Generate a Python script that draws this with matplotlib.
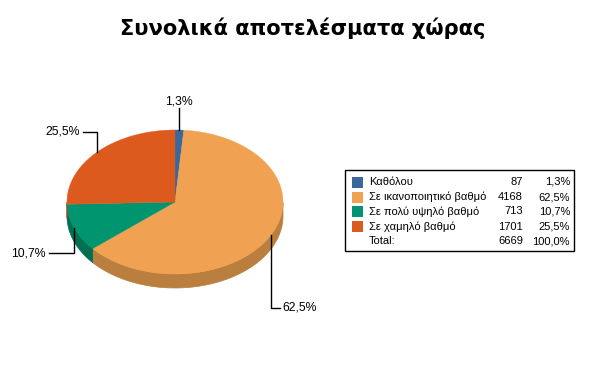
import numpy as np
import matplotlib
matplotlib.use("Agg")
import matplotlib.pyplot as plt
from matplotlib.patches import Polygon, Rectangle

# ---- data ----
title = "Συνολικά αποτελέσματα χώρας"
categories = ["Καθόλου", "Σε ικανοποιητικό βαθμό", "Σε πολύ υψηλό βαθμό", "Σε χαμηλό βαθμό"]
values = [87, 4168, 713, 1701]
total_label = "Total:"

# ---- style ----
top_colors = ["#3a679c", "#f0a252", "#00956f", "#dd5a1f"]
side_colors = ["#2a4c73", "#ba7f3e", "#007053", "#a8441a"]

W, H = 596, 379
fig = plt.figure(figsize=(W / 100, H / 100), dpi=100)
ax = fig.add_axes([0, 0, 1, 1])
ax.set_xlim(0, W)
ax.set_ylim(H, 0)
ax.axis("off")

cx, cy, rx, ry, depth = 175, 202, 108, 72, 14

def pt(t):
    r = np.radians(t)
    return cx + rx * np.cos(r), cy - ry * np.sin(r)

vals = np.array(values, dtype=float)
total = vals.sum()
fracs = vals / total
cum = np.concatenate([[0], np.cumsum(fracs)])
starts = 90 - cum[1:] * 360
ends = 90 - cum[:-1] * 360

# side walls
for i in range(len(vals)):
    ts = np.linspace(starts[i], ends[i], 400)
    vis = np.sin(np.radians(ts)) < 0
    if not vis.any():
        continue
    idx = np.where(vis)[0]
    runs = np.split(idx, np.where(np.diff(idx) != 1)[0] + 1)
    for run in runs:
        tt = ts[run]
        xs, ys = pt(tt)
        poly = np.column_stack([np.concatenate([xs, xs[::-1]]),
                                np.concatenate([ys, ys[::-1] + depth])])
        ax.add_patch(Polygon(poly, closed=True, facecolor=side_colors[i],
                             edgecolor=side_colors[i], lw=0.5))

# top faces
for i in range(len(vals)):
    ts = np.linspace(starts[i], ends[i], 300)
    xs, ys = pt(ts)
    poly = np.column_stack([np.concatenate([[cx], xs]), np.concatenate([[cy], ys])])
    ax.add_patch(Polygon(poly, closed=True, facecolor=top_colors[i],
                         edgecolor=top_colors[i], lw=0.3))

def pct(v):
    return f"{v:.1f}".replace(".", ",") + "%"

# label leader lines: (label y, horizontal end x, text alignment)
label_layout = [
    (108, None, "center"),
    (308, 280, "left"),
    (253, 49, "right"),
    (132, 83, "right"),
]
lab_font = dict(family=["Liberation Sans", "DejaVu Sans"], fontsize=8.8, color="#000000")
for i in range(len(vals)):
    mid = (starts[i] + ends[i]) / 2
    x0, y0 = pt(mid)
    ly, lx, ha = label_layout[i]
    if lx is None:
        ax.plot([x0, x0], [y0, ly], color="black", lw=1)
        ax.text(x0, ly - 1, pct(fracs[i] * 100), ha="center", va="bottom", **lab_font)
    else:
        ax.plot([x0, x0, lx], [y0, ly, ly], color="black", lw=1)
        if ha == "left":
            ax.text(lx + 2, ly, pct(fracs[i] * 100), ha="left", va="center", **lab_font)
        else:
            ax.text(lx - 3, ly, pct(fracs[i] * 100), ha="right", va="center", **lab_font)

# title
ax.text(W / 2 + 5, 28, title, ha="center", va="center", fontsize=15.1,
        fontweight="bold", family=["DejaVu Sans"])

# legend
lx0, ly0, lw_, lh_ = 345, 170, 229, 81
ax.add_patch(Rectangle((lx0, ly0), lw_, lh_, facecolor="white", edgecolor="black", lw=1))
row_y = [182, 197, 211.5, 226.5, 241.5]
leg_font = dict(family=["Liberation Sans", "DejaVu Sans"], fontsize=8, color="#000000")
for i, cat in enumerate(categories):
    y = row_y[i]
    ax.add_patch(Rectangle((352, y - 5.5), 11, 11, facecolor=top_colors[i], edgecolor="none"))
    ax.text(369, y, cat, ha="left", va="center", **leg_font)
    ax.text(523, y, str(values[i]), ha="right", va="center", **leg_font)
    ax.text(570, y, pct(fracs[i] * 100), ha="right", va="center", **leg_font)
y = row_y[-1]
ax.text(369, y, total_label, ha="left", va="center", **leg_font)
ax.text(523, y, str(int(total)), ha="right", va="center", **leg_font)
ax.text(570, y, pct(100.0), ha="right", va="center", **leg_font)

fig.savefig("out.png", dpi=100)
